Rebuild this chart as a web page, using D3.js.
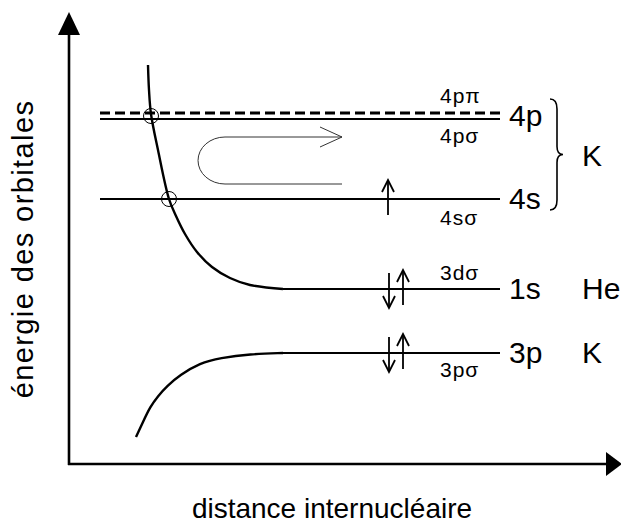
<!DOCTYPE html>
<html>
<head>
<meta charset="utf-8">
<script src="https://cdn.jsdelivr.net/npm/d3@7/dist/d3.min.js"></script>
<style>
  html, body { margin: 0; padding: 0; background: #fff; }
  svg { display: block; }
  text { font-family: "Liberation Sans", Arial, Helvetica, sans-serif; fill: #000; }
</style>
</head>
<body>
<svg id="chart" width="621" height="525"></svg>
<script>
// ---------- data (arbitrary units: distance, energy) ----------
const levelNames    = ["4pπ", "4pσ", "4sσ", "3dσ", "3pσ"];
const levelEnergies = [351, 345, 265, 175, 111];
const levelDashed   = [true, false, false, false, false];
const levelStart    = [31, 31, 31, 214, 214];
const levelEnd      = 431;

const atomicLabels   = ["4p", "4s", "1s", "3p"];
const atomicEnergies = [348, 265, 175, 111];
const atomLabels     = ["He", "K"];
const atomEnergies   = [175, 111];
const braceLabel     = "K";

// repulsive curve (He 1s → 3dσ)
const curveUpper = [[79, 399], [80, 374], [82, 350], [89, 314], [100, 265], [107, 248],
                    [116, 230], [128, 212], [143, 197], [161, 186], [181, 179], [214, 175]];
// attractive curve (K 3p → 3pσ)
const curveLower = [[67, 27], [74, 42], [81, 57], [89, 68], [98, 78], [111, 89],
                    [131, 101], [151, 106], [181, 110], [214, 111]];

// crossings
const crossings = [[82, 348], [100, 265]];

// electrons: [distance, energy level, direction]
const electrons = [[319, 265, "up"], [320, 175, "down"], [334, 175, "up"],
                   [320, 111, "down"], [334, 111, "up"]];

// ---------- drawing ----------
const svg = d3.select("#chart");
const x = d3.scaleLinear().domain([0, 538]).range([69, 607]);
const y = d3.scaleLinear().domain([0, 430]).range([464, 34]);

// axes
svg.append("line").attr("x1", x(0)).attr("x2", x(0)).attr("y1", y(0) + 1).attr("y2", 30)
  .attr("stroke", "#000").attr("stroke-width", 2.6);
svg.append("path").attr("d", `M${x(0)},12 L${x(0) - 11},35 L${x(0) + 11},35 Z`).attr("fill", "#000");
svg.append("line").attr("x1", x(0) - 1).attr("x2", 610).attr("y1", y(0)).attr("y2", y(0))
  .attr("stroke", "#000").attr("stroke-width", 2.6);
svg.append("path").attr("d", `M622,${y(0)} L606,${y(0) - 12} L606,${y(0) + 12} Z`).attr("fill", "#000");

// axis titles
svg.append("text").attr("transform", `translate(33,${(y(0) + y(430)) / 2}) rotate(-90)`)
  .attr("text-anchor", "middle").attr("font-size", 29).attr("letter-spacing", 1.4)
  .text("énergie des orbitales");
svg.append("text").attr("x", 332).attr("y", 518).attr("text-anchor", "middle")
  .attr("font-size", 28).text("distance internucléaire");

// levels
levelEnergies.forEach((e, i) => {
  svg.append("line")
    .attr("x1", x(levelStart[i])).attr("x2", x(levelEnd))
    .attr("y1", y(e)).attr("y2", y(e))
    .attr("stroke", "#000")
    .attr("stroke-width", levelDashed[i] ? 2.8 : 2.2)
    .attr("stroke-dasharray", levelDashed[i] ? "10,5" : null);
});

// curves
const lineUpper = d3.line().x(d => x(d[0])).y(d => y(d[1])).curve(d3.curveCatmullRom.alpha(0.5));
const lineLower = d3.line().x(d => x(d[0])).y(d => y(d[1])).curve(d3.curveBasis);
svg.append("path").attr("d", lineUpper(curveUpper)).attr("fill", "none")
  .attr("stroke", "#000").attr("stroke-width", 2.4);
svg.append("path").attr("d", lineLower(curveLower)).attr("fill", "none")
  .attr("stroke", "#000").attr("stroke-width", 2.4);

// crossing circles
svg.selectAll("circle.cross").data(crossings).enter().append("circle")
  .attr("cx", d => x(d[0])).attr("cy", d => y(d[1])).attr("r", 7.5)
  .attr("fill", "none").attr("stroke", "#000").attr("stroke-width", 1);

// U-shaped arrow (thin)
const uTop = y(327), uBot = y(280), uL = x(156), uR = x(273);
const ry = (uBot - uTop) / 2;
svg.append("path")
  .attr("d", `M${uR},${uBot} L${uL},${uBot} A27,${ry} 0 0 1 ${uL},${uTop} L${uR},${uTop}`)
  .attr("fill", "none").attr("stroke", "#333").attr("stroke-width", 1);
svg.append("path")
  .attr("d", `M${uR - 22},${uTop - 10} L${uR},${uTop} L${uR - 22},${uTop + 10}`)
  .attr("fill", "none").attr("stroke", "#333").attr("stroke-width", 1);

// MO labels
const moOffsets = [-10, 24, 26, -9, 24];
levelNames.forEach((n, i) => {
  svg.append("text").attr("x", x(371)).attr("y", y(levelEnergies[i]) + moOffsets[i])
    .attr("font-size", 21).attr("letter-spacing", 1).text(n);
});

// atomic labels
atomicLabels.forEach((n, i) => {
  svg.append("text").attr("x", x(440)).attr("y", y(atomicEnergies[i]) + 10)
    .attr("font-size", 30).text(n);
});
atomLabels.forEach((n, i) => {
  svg.append("text").attr("x", x(513)).attr("y", y(atomEnergies[i]) + 10)
    .attr("font-size", 30).text(n);
});

// brace
const bTop = y(365), bBot = y(254), bMid = (bTop + bBot) / 2, bx = x(481);
svg.append("path")
  .attr("d", `M${bx},${bTop} Q${bx + 7},${bTop} ${bx + 7},${bTop + 10} L${bx + 7},${bMid - 8} Q${bx + 7},${bMid} ${bx + 13},${bMid}` +
             ` Q${bx + 7},${bMid} ${bx + 7},${bMid + 8} L${bx + 7},${bBot - 10} Q${bx + 7},${bBot} ${bx},${bBot}`)
  .attr("fill", "none").attr("stroke", "#000").attr("stroke-width", 1.6);
svg.append("text").attr("x", x(513)).attr("y", bMid + 11).attr("font-size", 30).text(braceLabel);

// electrons
electrons.forEach(([d, e, dir]) => {
  const cx = x(d), cy = y(e);
  let y1, y2;
  if (dir === "up") { y1 = cy + 16; y2 = cy - 19; }
  else { y1 = cy - 16; y2 = cy + 19; }
  svg.append("line").attr("x1", cx).attr("x2", cx).attr("y1", y1).attr("y2", y2)
    .attr("stroke", "#000").attr("stroke-width", 1.8);
  const s = dir === "up" ? 1 : -1;
  svg.append("path")
    .attr("d", `M${cx - 6},${y2 + s * 12} L${cx},${y2} L${cx + 6},${y2 + s * 12}`)
    .attr("fill", "none").attr("stroke", "#000").attr("stroke-width", 1.8);
});
</script>
</body>
</html>
